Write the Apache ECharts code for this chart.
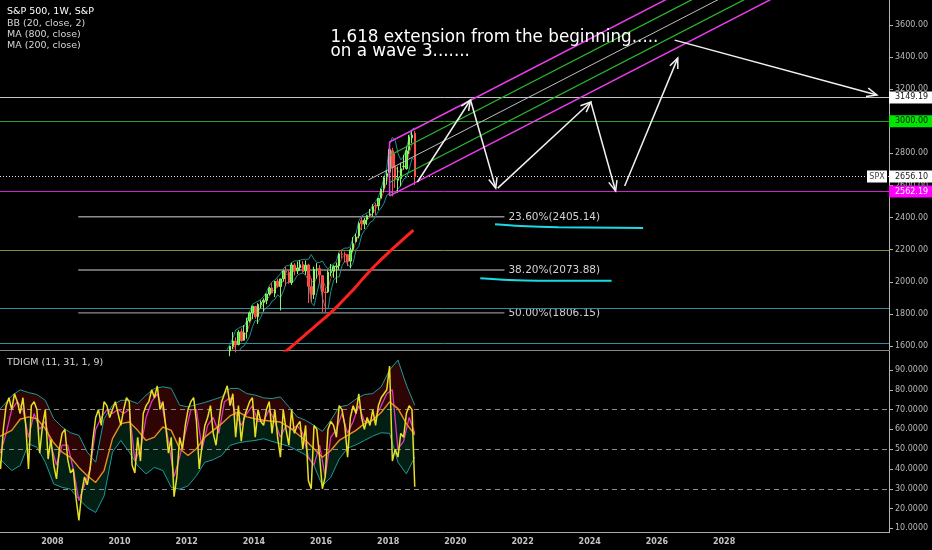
<!DOCTYPE html>
<html><head><meta charset="utf-8">
<script src="https://cdn.jsdelivr.net/npm/echarts@6/dist/echarts.min.js"></script>
<style>html,body{margin:0;padding:0;background:#000;}#c{width:932px;height:550px;}</style>
</head><body><div id="c"></div>
<script>
// ================= DATA =================
const xRange = [2006.441, 2032.91];
const priceRange = [1575, 3756];
const tdiRange = [7.8, 99.6];
const yearTicks = [2008, 2010, 2012, 2014, 2016, 2018, 2020, 2022, 2024, 2026, 2028];
const priceTicks = [1600, 1800, 2000, 2200, 2400, 2600, 2800, 3000, 3200, 3400, 3600];
const tdiTicks = [10, 20, 30, 40, 50, 60, 70, 80, 90];

// monthly candles from Jan 2013: [open, high, low, close]
const candleStartYear = 2013;
const candles = [
[1426,1509,1426,1498],[1498,1530,1485,1515],[1515,1570,1501,1569],[1569,1598,1536,1598],[1597,1687,1581,1631],[1631,1654,1560,1606],
[1609,1698,1604,1686],[1689,1709,1627,1633],[1636,1730,1633,1682],[1688,1776,1646,1757],[1758,1814,1746,1806],[1806,1849,1767,1848],
[1846,1850,1770,1783],[1782,1867,1737,1859],[1857,1884,1835,1872],[1873,1897,1815,1884],[1884,1924,1860,1924],[1924,1968,1915,1960],
[1962,1991,1930,1931],[1929,2005,1904,2003],[2004,2019,1964,1972],[1971,2018,1821,2018],[2019,2075,2001,2068],[2065,2093,1972,2059],
[2059,2072,1988,1995],[1996,2119,1981,2105],[2105,2117,2040,2068],[2068,2126,2048,2086],[2088,2135,2068,2107],[2108,2130,2056,2063],
[2068,2133,2044,2104],[2105,2113,1867,1972],[1970,2021,1872,1920],[1919,2094,1893,2079],[2080,2116,2019,2080],[2082,2104,1993,2044],
[2038,2038,1812,1940],[1937,1963,1810,1932],[1937,2072,1931,2060],[2057,2111,2034,2065],[2067,2103,2025,2097],[2094,2121,1992,2099],
[2099,2178,2075,2174],[2174,2194,2148,2171],[2171,2188,2120,2168],[2169,2169,2097,2126],[2129,2214,2084,2199],[2200,2278,2187,2239],
[2251,2301,2245,2279],[2286,2372,2271,2364],[2381,2401,2322,2363],[2362,2398,2329,2384],[2389,2418,2353,2412],[2415,2454,2406,2423],
[2431,2484,2407,2470],[2477,2491,2417,2472],[2474,2519,2447,2519],[2521,2582,2520,2575],[2583,2657,2557,2648],[2657,2695,2605,2674],
[2683,2873,2682,2824],[2816,2835,2533,2714],[2715,2801,2585,2641],[2633,2718,2554,2648],[2643,2743,2595,2705],[2718,2791,2698,2718],
[2705,2848,2699,2816],[2821,2916,2796,2902],[2897,2941,2864,2914],[2926,2940,2603,2656]
];
const bbUpper = [1530,1545,1580,1610,1650,1700,1710,1720,1720,1760,1810,1860,
1870,1880,1890,1910,1935,1975,2000,2010,2030,2050,2080,2100,
2100,2120,2130,2130,2135,2140,2140,2140,2170,2140,2120,2120,
2130,2100,2080,2100,2110,2130,2190,2200,2210,2210,2220,2280,
2300,2380,2410,2420,2430,2440,2480,2500,2530,2580,2650,2710,
2860,2900,2880,2800,2760,2780,2830,2900,2950,2960];
const bbMid = [1450,1480,1510,1545,1580,1605,1625,1650,1660,1690,1735,1790,
1810,1815,1840,1865,1885,1910,1940,1950,1975,1975,2010,2045,
2050,2055,2070,2085,2090,2095,2090,2080,2010,1990,2030,2060,
2020,1970,1960,2020,2060,2080,2110,2150,2170,2160,2150,2200,
2250,2300,2350,2365,2385,2405,2430,2455,2485,2520,2570,2625,
2700,2730,2720,2690,2680,2710,2740,2800,2860,2860];
const bbLower = [1380,1420,1450,1490,1520,1540,1560,1590,1600,1630,1660,1720,
1760,1750,1780,1820,1840,1850,1880,1890,1920,1900,1940,1990,
2000,1990,2010,2040,2050,2055,2040,2010,1870,1850,1930,2000,
1900,1840,1830,1940,2010,2030,2030,2100,2130,2110,2090,2120,
2200,2220,2290,2320,2340,2370,2380,2410,2440,2460,2490,2540,
2550,2560,2560,2580,2600,2640,2650,2700,2770,2760];
const ma200Years = [2014.5,2014.75,2015.0,2015.25,2015.5,2015.75,2016.0,2016.25,2016.5,2016.75,2017.0,2017.25,2017.5,2017.75,2018.0,2018.25,2018.5,2018.75];
const ma200Values = [1495,1535,1575,1620,1665,1710,1755,1800,1850,1905,1960,2020,2078,2130,2180,2228,2275,2322];

const levelLines = [3149.19, 3000, 2656.10, 2562.19, 2198, 1835, 1617];
const fibLevels = [2405.14, 2073.88, 1806.15];
const fibLabels = ['23.60%(2405.14)', '38.20%(2073.88)', '50.00%(1806.15)'];
const fibSpan = [2008.77, 2021.46];

const channelFromYear = 2018.04, channelToYear = 2031;
const channelFrom = [2871, 2787, 2703, 2619, 2535];
const channelTo = [4269, 4185, 4101, 4017, 3933];
const medianStart = [2017.41, 2635];

const arrowsFrom = [[2018.87,2622],[2020.45,3133],[2021.26,2584],[2024.03,3120],[2025.04,2597],[2026.53,3506]];
const arrowsTo   = [[2020.45,3133],[2021.20,2584],[2024.03,3120],[2024.77,2566],[2026.62,3394],[2032.55,3164]];
const cyan1 = [[2021.18,2358],[2021.95,2347],[2023.06,2340],[2025.59,2335]];
const cyan2 = [[2020.74,2022],[2021.6,2011],[2022.48,2007],[2024.65,2007]];
const noteAt = [2016.28, 3569];
const noteText = '1.618 extension from the beginning.....\non a wave 3.......';
const tagPrices = [3149.19, 3000, 2656.10, 2562.19];

const tdiStart = 2006.29;
const tdiYellow = [58,50,40,60,72,76,70,78,74,
68,76,62,40,72,74,70,48,62,70,45,55,
42,35,50,58,60,45,38,40,25,14,28,36,
32,40,55,66,70,62,74,72,66,70,74,68,
62,70,76,74,42,38,56,44,68,72,74,80,
76,82,70,74,62,48,56,26,36,56,50,62,
70,74,76,64,40,52,62,66,72,58,52,64,
74,78,82,72,78,56,72,54,66,70,74,76,
56,70,64,62,70,74,58,70,56,46,70,60,
52,70,58,62,64,50,62,34,30,62,60,46,
30,36,60,64,62,56,72,70,62,46,66,72,
68,78,66,60,66,62,70,62,72,76,78,80,
92,44,50,46,58,56,68,72,70,31];
const tdiPink = [55,48,58,70,74,70,56,68,60,64,52,42,52,52,40,24,32,40,60,66,70,68,70,68,70,44,50,66,74,78,
70,54,36,46,58,70,70,50,62,66,58,74,76,68,62,68,72,64,64,70,64,56,62,60,62,58,46,42,52,36,
56,60,68,58,64,72,64,64,66,72,78,80,50,54,66,58];
const tdiUpper = [68,72,77,80,78.6,77.6,74.7,65.4,61.2,58.3,57,48.5,43.4,65.4,72.2,74.7,74.7,73,77.3,80.7,
81.5,80.7,72.2,71.4,72.5,73.6,75,76.4,80.7,80.7,78.1,77.3,75.9,75.6,76.4,71.4,66.3,64.6,62,59,
64.6,71.4,72.2,75.3,77.6,78.1,81.5,90,95,82.4,72.2];
const tdiBase = [55.3,57.3,59.5,65.1,66.3,65.4,60.3,53.2,48.5,45.9,40.8,36.6,33.2,39.2,55.3,62.9,63.7,59.5,54.4,56.1,
61.2,59.5,50.2,46.8,50.2,56.1,59.5,62.9,66.8,68.8,66.3,65.4,64.6,64.1,63.7,61.2,57.8,54.4,50.2,45.9,
49.3,54.4,57,59.5,62.9,64.6,68.5,73.9,70.5,62.9,57.3];
const tdiLower = [46.8,43.4,39.2,41.7,52.7,51,43.4,32.4,30.7,29.8,24.7,20.5,18,26.4,48.5,54.4,48.5,41.7,37.5,40.8,
39.2,30.7,29.8,31.5,36.6,43.4,44.7,46.8,51.9,53.2,53.9,54.4,55.3,53.9,52.7,51.5,49.3,47.1,41.7,31.5,
35.8,45,50.5,52.2,54.4,56.6,58.3,58,43.4,37.5,46];
const tdiLevels = [70, 50, 30];

// ================= BUILD =================
const FONT = 'DejaVu Sans';
const monthT = i => candleStartYear + (i + 0.5) / 12;
const bandStep = 0.25;
const pairs = (arr, t0, step) => arr.map((v, i) => [t0 + i * step, v]);

const levelStyles = [
  {color:'#c4c4c4', width:1, type:'solid'},
  {color:'#2f9a2f', width:1, type:'solid'},
  {color:'#e0e0e0', width:1, type:[1,2]},
  {color:'#d020d0', width:1, type:'solid'},
  {color:'#8b8b3a', width:1, type:'solid'},
  {color:'#2f8f9f', width:1, type:'solid'},
  {color:'#2f8f9f', width:1, type:'solid'}
];
const tagStyles = [
  {bg:'#ffffff', fg:'#111'}, {bg:'#00e600', fg:'#111'}, {bg:'#ffffff', fg:'#222', spx:true}, {bg:'#ff00ff', fg:'#fff'}
];
const channelStyles = [
  {color:'#e83ee8', width:1.5}, {color:'#2db52d', width:1.3}, {color:'#bdbdbd', width:1},
  {color:'#2db52d', width:1.3}, {color:'#e83ee8', width:1.5}
];

const series = [];
const P = {xAxisIndex:0, yAxisIndex:0};
const T = {xAxisIndex:1, yAxisIndex:1};

// level lines (full width) on a host series
series.push(Object.assign({
  type:'line', data:[], silent:true,
  markLine:{silent:true, symbol:['none','none'], label:{show:false}, animation:false,
    data: levelLines.map((v,i)=>({yAxis:v, lineStyle:levelStyles[i]}))}
}, P));

// fib lines + labels
series.push(Object.assign({
  type:'custom', silent:true, z:3,
  data: fibLevels.map((v,i)=>[fibSpan[0], v, fibSpan[1], i]),
  encode:{x:[0,2], y:1},
  renderItem:(params, api)=>{
    const a = api.coord([api.value(0), api.value(1)]);
    const b = api.coord([api.value(2), api.value(1)]);
    return {type:'group', children:[
      {type:'line', shape:{x1:a[0],y1:a[1],x2:b[0],y2:b[1]}, style:{stroke:'#8e8e8e', lineWidth:1.4}},
      {type:'text', x:b[0]+4, y:a[1], style:{text:fibLabels[api.value(3)], fill:'#d2d2d2', font:'10.5px '+FONT, textAlign:'left', textVerticalAlign:'middle'}}
    ]};
  }
}, P));

// Bollinger bands
series.push(Object.assign({type:'line', data:bbUpper.map((v,i)=>[monthT(i),v]), symbol:'none', lineStyle:{color:'#1f8f8f', width:1}, z:4}, P));
series.push(Object.assign({type:'line', data:bbLower.map((v,i)=>[monthT(i),v]), symbol:'none', lineStyle:{color:'#1f8f8f', width:1}, z:4}, P));
series.push(Object.assign({type:'line', data:bbMid.map((v,i)=>[monthT(i),v]), symbol:'none', lineStyle:{color:'#b03a3a', width:1}, z:4}, P));

// candles
series.push(Object.assign({
  type:'candlestick', barWidth:2, z:5,
  data: candles.map((c,i)=>[monthT(i), c[0], c[3], c[2], c[1]]),
  encode:{x:0, y:[1,2,3,4]},
  itemStyle:{color:'#3ae83a', color0:'#ff3b3b', borderColor:'#8cf56a', borderColor0:'#ff5050', borderWidth:1}
}, P));

// MA 200
series.push(Object.assign({type:'line', data:ma200Years.map((t,i)=>[t, ma200Values[i]]), symbol:'none', smooth:0.3, lineStyle:{color:'#ff2020', width:3}, z:6}, P));

// pitchfork channel
channelFrom.forEach((v,i)=>{
  const start = i === 2 ? medianStart : [channelFromYear, v];
  series.push(Object.assign({type:'line', data:[start, [channelToYear, channelTo[i]]], symbol:'none', lineStyle:channelStyles[i], z:7, silent:true}, P));
});
series.push(Object.assign({type:'line', data:[[channelFromYear, channelFrom[4]],[channelFromYear, channelFrom[0]]], symbol:'none', lineStyle:{color:'#e83ee8', width:1.5}, z:7}, P));

// cyan curves
[cyan1, cyan2].forEach(c=>{
  series.push(Object.assign({type:'line', data:c, symbol:'none', smooth:0.4, lineStyle:{color:'#19dbe3', width:2}, z:7}, P));
});

// arrows
series.push(Object.assign({
  type:'custom', z:8, silent:true,
  data: arrowsFrom.map((a,i)=>[a[0],a[1],arrowsTo[i][0],arrowsTo[i][1]]),
  encode:{x:[0,2], y:[1,3]},
  renderItem:(params, api)=>{
    const p1 = api.coord([api.value(0), api.value(1)]);
    const p2 = api.coord([api.value(2), api.value(3)]);
    const ang = Math.atan2(p2[1]-p1[1], p2[0]-p1[0]);
    const L = 11, A = 0.4;
    const h1 = [p2[0]-L*Math.cos(ang-A), p2[1]-L*Math.sin(ang-A)];
    const h2 = [p2[0]-L*Math.cos(ang+A), p2[1]-L*Math.sin(ang+A)];
    return {type:'group', children:[
      {type:'line', shape:{x1:p1[0],y1:p1[1],x2:p2[0],y2:p2[1]}, style:{stroke:'#f2f2f2', lineWidth:1.5}},
      {type:'polyline', shape:{points:[h1,p2,h2]}, style:{stroke:'#f2f2f2', lineWidth:1.5, fill:null}}
    ]};
  }
}, P));

// annotation text
series.push(Object.assign({
  type:'custom', z:9, silent:true, data:[noteAt], encode:{x:0,y:1},
  renderItem:(params, api)=>{
    const p = api.coord([api.value(0), api.value(1)]);
    return {type:'text', x:p[0], y:p[1], style:{text:noteText, fill:'#ffffff', font:'16.8px '+FONT, lineHeight:14.5, textAlign:'left', textVerticalAlign:'top'}};
  }
}, P));

// right-side price tags
series.push(Object.assign({
  type:'custom', z:20, silent:true, clip:false,
  data: tagPrices.map((v,i)=>[xRange[1], v, i]), encode:{x:0,y:1},
  renderItem:(params, api)=>{
    const p = api.coord([api.value(0), api.value(1)]);
    const st = tagStyles[api.value(2)];
    const ch = [
      {type:'rect', shape:{x:p[0], y:p[1]-6, width:44, height:12}, style:{fill:st.bg}},
      {type:'text', x:p[0]+6, y:p[1], style:{text:api.value(1).toFixed(2), fill:st.fg, font:'8px '+FONT, textAlign:'left', textVerticalAlign:'middle'}}
    ];
    if (st.spx) {
      ch.push({type:'rect', shape:{x:p[0]-22, y:p[1]-6, width:20, height:12}, style:{fill:'#ffffff'}});
      ch.push({type:'text', x:p[0]-12, y:p[1], style:{text:'SPX', fill:'#444', font:'8px '+FONT, textAlign:'center', textVerticalAlign:'middle'}});
    }
    return {type:'group', children:ch};
  }
}, P));

// ---- TDI pane ----
// band fills (upper->base dark red, base->lower dark green)
series.push(Object.assign({
  type:'custom', z:1, silent:true, clip:true,
  data:[[tdiStart, tdiBase[0]]], encode:{x:0, y:1},
  renderItem:(params, api)=>{
    const up = tdiUpper.map((v,i)=>api.coord([tdiStart+i*bandStep, v]));
    const md = tdiBase.map((v,i)=>api.coord([tdiStart+i*bandStep, v]));
    const lo = tdiLower.map((v,i)=>api.coord([tdiStart+i*bandStep, v]));
    return {type:'group', children:[
      {type:'polygon', shape:{points:up.concat(md.slice().reverse())}, style:{fill:'#2e0404'}},
      {type:'polygon', shape:{points:md.concat(lo.slice().reverse())}, style:{fill:'#031e12'}}
    ]};
  }
}, T));
series.push(Object.assign({type:'line', data:pairs(tdiUpper, tdiStart, bandStep), symbol:'none', lineStyle:{color:'#1d9a9a', width:1}, z:3}, T));
series.push(Object.assign({type:'line', data:pairs(tdiLower, tdiStart, bandStep), symbol:'none', lineStyle:{color:'#1d9a9a', width:1}, z:3}, T));
series.push(Object.assign({type:'line', data:pairs(tdiBase, tdiStart, bandStep), symbol:'none', lineStyle:{color:'#f08c1e', width:1.4}, z:5}, T));
series.push(Object.assign({type:'line', data:pairs(tdiPink, tdiStart, 1/6), symbol:'none', lineStyle:{color:'#e034c0', width:1.3}, z:4}, T));
series.push(Object.assign({
  type:'line', data:pairs(tdiYellow, tdiStart, 1/12), symbol:'none', lineStyle:{color:'#e6e024', width:1.5}, z:6,
  markLine:{silent:true, symbol:['none','none'], label:{show:false}, animation:false,
    lineStyle:{color:'#8a8a8a', width:1, type:[5,4]}, data: tdiLevels.map(v=>({yAxis:v}))}
}, T));

const axisLabelStyle = {color:'#b8b8b8', fontFamily:FONT, fontSize:8};
const option = {
  backgroundColor:'#000000',
  animation:false,
  grid:[
    {left:0, right:43, top:0, height:350},
    {left:0, right:43, top:351, bottom:17.3}
  ],
  xAxis:[
    {type:'value', gridIndex:0, min:xRange[0], max:xRange[1], axisLabel:{show:false}, axisTick:{show:false}, splitLine:{show:false},
     axisLine:{show:true, onZero:false, lineStyle:{color:'#8a8a8a', width:1}}},
    {type:'value', gridIndex:1, min:xRange[0], max:xRange[1], splitLine:{show:false}, axisTick:{show:false},
     axisLine:{show:true, onZero:false, lineStyle:{color:'#a8a8a8', width:1}},
     axisLabel:{customValues:yearTicks, margin:5, color:'#c4c4c4', fontFamily:FONT, fontSize:8, fontWeight:'bold', formatter:v=>String(v)}}
  ],
  yAxis:[
    {type:'value', gridIndex:0, position:'right', min:priceRange[0], max:priceRange[1], splitLine:{show:false},
     axisLine:{show:true, lineStyle:{color:'#b4b4b4', width:1}},
     axisTick:{show:true, customValues:priceTicks, length:4, lineStyle:{color:'#b4b4b4'}},
     axisLabel:Object.assign({customValues:priceTicks, margin:6, formatter:v=>v.toFixed(2)}, axisLabelStyle)},
    {type:'value', gridIndex:1, position:'right', min:tdiRange[0], max:tdiRange[1], splitLine:{show:false},
     axisLine:{show:true, lineStyle:{color:'#b4b4b4', width:1}},
     axisTick:{show:true, customValues:tdiTicks, length:4, lineStyle:{color:'#b4b4b4'}},
     axisLabel:Object.assign({customValues:tdiTicks, margin:6, formatter:v=>v.toFixed(4)}, axisLabelStyle)}
  ],
  graphic:[
    {type:'text', x:7, y:12, z:100, style:{text:'S&P 500, 1W, S&P', fill:'#ffffff', font:'9.5px '+FONT, textVerticalAlign:'middle'}},
    {type:'text', x:7, y:23.5, z:100, style:{text:'BB (20, close, 2)', fill:'#d6d6d6', font:'9.5px '+FONT, textVerticalAlign:'middle'}},
    {type:'text', x:7, y:34.5, z:100, style:{text:'MA (800, close)', fill:'#d6d6d6', font:'9.5px '+FONT, textVerticalAlign:'middle'}},
    {type:'text', x:7, y:45.5, z:100, style:{text:'MA (200, close)', fill:'#d6d6d6', font:'9.5px '+FONT, textVerticalAlign:'middle'}},
    {type:'text', x:7, y:362.5, z:100, style:{text:'TDIGM (11, 31, 1, 9)', fill:'#d6d6d6', font:'9.5px '+FONT, textVerticalAlign:'middle'}}
  ],
  series: series
};
const chart = echarts.init(document.getElementById('c'));
chart.setOption(option);
</script>
</body></html>
